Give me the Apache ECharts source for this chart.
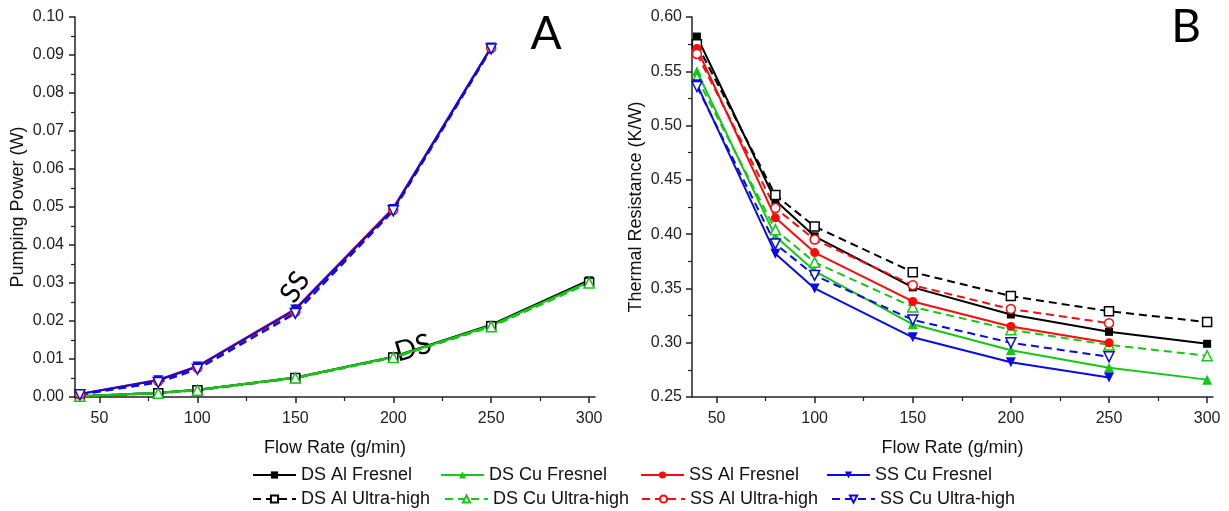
<!DOCTYPE html>
<html>
<head>
<meta charset="utf-8">
<script src="https://cdn.jsdelivr.net/npm/echarts@6/dist/echarts.min.js"></script>
<style>html,body{margin:0;padding:0;background:#fff;}#c{width:1229px;height:511px;}</style>
</head>
<body>
<div id="c"></div>
<script>
// ---------- data ----------
const flowDS = [40, 80, 100, 150, 200, 250, 300];
const flowSS = [40, 80, 100, 150, 200, 250];
const xTicks = [50, 100, 150, 200, 250, 300];
const xMinorTicks = [75, 125, 175, 225, 275];

// Panel A: pumping power (W)
const pumpDSAlFresnel = [0.0002, 0.0011, 0.0019, 0.0051, 0.0106, 0.0190, 0.0307];
const pumpDSAlUltra   = [0.0002, 0.0010, 0.0018, 0.0050, 0.0104, 0.0186, 0.0301];
const pumpDSCuFresnel = [0.0002, 0.0011, 0.0019, 0.0051, 0.0105, 0.0188, 0.0303];
const pumpDSCuUltra   = [0.0002, 0.0010, 0.0018, 0.0050, 0.0104, 0.0185, 0.0300];
const pumpSSAlFresnel = [0.0008, 0.0045, 0.0081, 0.0232, 0.0497, 0.0920];
const pumpSSAlUltra   = [0.0007, 0.0042, 0.0077, 0.0224, 0.0492, 0.0918];
const pumpSSCuFresnel = [0.0008, 0.0044, 0.0080, 0.0230, 0.0495, 0.0920];
const pumpSSCuUltra   = [0.0006, 0.0038, 0.0073, 0.0220, 0.0490, 0.0916];

// Panel B: thermal resistance (K/W)
const resDSAlFresnel = [0.582, 0.431, 0.398, 0.351, 0.326, 0.310, 0.299];
const resDSAlUltra   = [0.575, 0.436, 0.407, 0.365, 0.343, 0.329, 0.319];
const resDSCuFresnel = [0.550, 0.398, 0.366, 0.317, 0.293, 0.277, 0.266];
const resDSCuUltra   = [0.544, 0.404, 0.374, 0.333, 0.312, 0.298, 0.288];
const resSSAlFresnel = [0.571, 0.415, 0.383, 0.338, 0.315, 0.300];
const resSSAlUltra   = [0.566, 0.424, 0.395, 0.353, 0.331, 0.318];
const resSSCuFresnel = [0.538, 0.382, 0.350, 0.305, 0.282, 0.268];
const resSSCuUltra   = [0.536, 0.391, 0.362, 0.321, 0.300, 0.287];

const seriesNames = ['DS Al Fresnel', 'DS Al Ultra-high', 'DS Cu Fresnel', 'DS Cu Ultra-high',
                     'SS Al Fresnel', 'SS Al Ultra-high', 'SS Cu Fresnel', 'SS Cu Ultra-high'];

// ---------- styles ----------
const BLACK = '#000000', GREEN = '#14c814', RED = '#ff0a0a', BLUE = '#0a0ae6';
const styles = {
  'DS Al Fresnel':    {c: BLACK, sym: 'rect', rot: 0, open: false, size: 8},
  'DS Al Ultra-high': {c: BLACK, sym: 'rect', rot: 0, open: true, size: 9},
  'DS Cu Fresnel':    {c: GREEN, sym: 'triangle', rot: 0, open: false, size: 10},
  'DS Cu Ultra-high': {c: GREEN, sym: 'triangle', rot: 0, open: true, size: 10},
  'SS Al Fresnel':    {c: RED, sym: 'circle', rot: 0, open: false, size: 9},
  'SS Al Ultra-high': {c: RED, sym: 'circle', rot: 0, open: true, size: 9},
  'SS Cu Fresnel':    {c: BLUE, sym: 'triangle', rot: 180, open: false, size: 10},
  'SS Cu Ultra-high': {c: BLUE, sym: 'triangle', rot: 180, open: true, size: 10}
};

function pairs(xs, ys) { return ys.map((v, i) => [xs[i], v]); }

function mk(name, xi, yi, xs, ys, lw) {
  const s = styles[name];
  return {
    name: name, type: 'line', xAxisIndex: xi, yAxisIndex: yi,
    data: pairs(xs, ys),
    symbol: s.sym, symbolRotate: s.rot, symbolSize: s.size,
    color: s.c,
    lineStyle: {color: s.c, width: lw, type: s.open ? [8, 5] : 'solid'},
    itemStyle: s.open ? {color: '#ffffff', borderColor: s.c, borderWidth: 1.5}
                      : {color: s.c, borderColor: s.c, borderWidth: 0},
    emphasis: {disabled: true}, z: 2
  };
}

const FONT = 'Arial, "Liberation Sans", sans-serif';
const AX = '#222';

function xMajor(grid) {
  return {
    type: 'value', gridIndex: grid, min: 37.5, max: 303, position: 'bottom', offset: 0,
    name: 'Flow Rate (g/min)', nameLocation: 'middle', nameGap: 42,
    nameTextStyle: {fontFamily: FONT, fontSize: 18, color: '#111'},
    axisLine: {show: true, onZero: false, lineStyle: {color: AX, width: 1.5}},
    axisTick: {show: true, customValues: xTicks, length: 6, lineStyle: {color: AX, width: 1.5}},
    axisLabel: {show: true, customValues: xTicks, fontFamily: FONT, fontSize: 16, color: '#222', margin: 14},
    splitLine: {show: false}
  };
}
function xMinor(grid) {
  return {
    type: 'value', gridIndex: grid, min: 37.5, max: 303, position: 'bottom', offset: 0,
    axisLine: {show: false},
    axisTick: {show: true, customValues: xMinorTicks, length: 4, lineStyle: {color: AX, width: 1.2}},
    axisLabel: {show: false},
    splitLine: {show: false}
  };
}
function yAx(grid, min, max, interval, name, gap, margin) {
  return {
    type: 'value', gridIndex: grid, min: min, max: max, interval: interval,
    name: name, nameLocation: 'middle', nameGap: gap, nameRotate: 90,
    nameTextStyle: {fontFamily: FONT, fontSize: 18, color: '#111'},
    axisLine: {show: true, onZero: false, lineStyle: {color: AX, width: 1.5}},
    axisTick: {show: true, length: 6, lineStyle: {color: AX, width: 1.5}},
    minorTick: {show: true, splitNumber: 2, length: 4, lineStyle: {color: AX, width: 1.2}},
    axisLabel: {fontFamily: FONT, fontSize: 16, color: '#222', margin: margin,
                formatter: v => v.toFixed(2)},
    splitLine: {show: false}
  };
}

const series = [];
const dsA = {'DS Al Fresnel': pumpDSAlFresnel, 'DS Al Ultra-high': pumpDSAlUltra,
             'DS Cu Fresnel': pumpDSCuFresnel, 'DS Cu Ultra-high': pumpDSCuUltra};
const ssA = {'SS Al Fresnel': pumpSSAlFresnel, 'SS Al Ultra-high': pumpSSAlUltra,
             'SS Cu Fresnel': pumpSSCuFresnel, 'SS Cu Ultra-high': pumpSSCuUltra};
const dsB = {'DS Al Fresnel': resDSAlFresnel, 'DS Al Ultra-high': resDSAlUltra,
             'DS Cu Fresnel': resDSCuFresnel, 'DS Cu Ultra-high': resDSCuUltra};
const ssB = {'SS Al Fresnel': resSSAlFresnel, 'SS Al Ultra-high': resSSAlUltra,
             'SS Cu Fresnel': resSSCuFresnel, 'SS Cu Ultra-high': resSSCuUltra};
seriesNames.forEach(n => {
  if (dsA[n]) series.push(mk(n, 0, 0, flowDS, dsA[n], 2.2));
  else series.push(mk(n, 0, 0, flowSS, ssA[n], 2.2));
});
seriesNames.forEach(n => {
  if (dsB[n]) series.push(mk(n, 2, 1, flowDS, dsB[n], 2));
  else series.push(mk(n, 2, 1, flowSS, ssB[n], 2));
});

// legend layout: [name, left, top]
const legendPos = [
  ['DS Al Fresnel', 252, 466], ['DS Cu Fresnel', 440, 466], ['SS Al Fresnel', 640, 466], ['SS Cu Fresnel', 826, 466],
  ['DS Al Ultra-high', 252, 490], ['DS Cu Ultra-high', 444, 490], ['SS Al Ultra-high', 641, 490], ['SS Cu Ultra-high', 831, 490]
];
const legends = legendPos.map(p => ({
  data: [p[0]], left: p[1], top: p[2], padding: 0, itemGap: 0,
  itemWidth: 43, itemHeight: 9, selectedMode: false,
  textStyle: {fontFamily: FONT, fontSize: 18, color: '#111'}
}));

const option = {
  animation: false,
  backgroundColor: '#ffffff',
  grid: [
    {left: 75, top: 17, width: 520, height: 380, containLabel: false},
    {left: 692, top: 17, width: 521, height: 380, containLabel: false}
  ],
  xAxis: [xMajor(0), xMinor(0), xMajor(1), xMinor(1)],
  yAxis: [
    yAx(0, 0, 0.1, 0.01, 'Pumping Power (W)', 48, 11),
    yAx(1, 0.25, 0.6, 0.05, 'Thermal Resistance (K/W)', 47, 10)
  ],
  legend: legends,
  series: series,
  graphic: [
    {type: 'text', x: 546, y: 34, style: {text: 'A', font: '46px Lato', fill: '#000', align: 'center', verticalAlign: 'middle'}},
    {type: 'text', x: 1186, y: 27, style: {text: 'B', font: '46px Lato', fill: '#000', align: 'center', verticalAlign: 'middle'}},
    {type: 'text', x: 295, y: 287, rotation: 1.0, style: {text: 'SS', font: '28px Lato', fill: '#000', align: 'center', verticalAlign: 'middle'}},
    {type: 'text', x: 413, y: 348, rotation: 0.28, style: {text: 'DS', font: '28px Lato', fill: '#000', align: 'center', verticalAlign: 'middle'}}
  ]
};

const chart = echarts.init(document.getElementById('c'), null, {renderer: 'canvas'});
chart.setOption(option);
</script>
</body>
</html>
